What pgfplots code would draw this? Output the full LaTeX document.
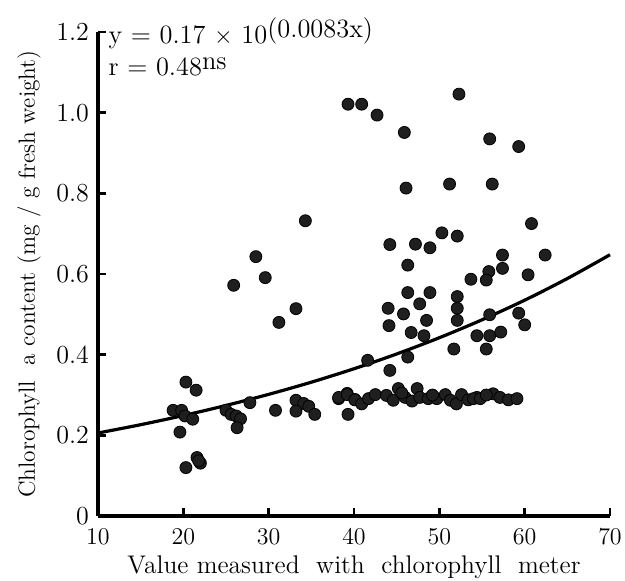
\documentclass[border=0pt]{standalone}
\usepackage{pgfplots}
\pgfplotsset{compat=1.18}
\begin{document}
\begin{tikzpicture}
\begin{axis}[
  scale only axis,
  width=256pt, height=242pt,
  xmin=10, xmax=70, ymin=0, ymax=1.2,
  axis lines=left,
  axis line style={line width=1.6pt, -},
  xtick={10,20,30,40,50,60,70},
  ytick={0,0.2,0.4,0.6,0.8,1.0,1.2},
  yticklabels={0,0.2,0.4,0.6,0.8,1.0,1.2},
  tick align=inside,
  major tick length=4pt,
  tick style={line width=1.2pt, black},
  ticklabel style={font=\fontsize{13}{15}\selectfont},
  xticklabel style={yshift=-3pt},
  yticklabel style={xshift=-1pt},
  xlabel={Value measured\ \ with\ \ chlorophyll\ \ meter},
  ylabel={Chlorophyll\ \ a content (mg / g fresh weight)},
  xlabel style={font=\fontsize{12.75}{15}\selectfont, yshift=1pt},
  ylabel style={font=\fontsize{11.7}{14}\selectfont, yshift=1pt},
  clip=false,
]
\addplot[only marks, mark=*, mark size=3pt, mark options={fill=black!88, draw=black, line width=0.4pt}] coordinates {
(20.3,0.332) (21.5,0.312) (18.8,0.262) (19.8,0.262) (20.2,0.248) (21.1,0.240)
(19.6,0.208) (20.3,0.120) (21.6,0.145) (22.0,0.131) (21.8,0.137)
(25.0,0.262) (25.6,0.252) (26.2,0.248) (26.7,0.241) (26.3,0.219) (27.8,0.281)
(30.8,0.262) (33.2,0.287) (34.1,0.279) (34.7,0.272) (33.2,0.260) (35.4,0.252)
(38.2,0.291) (39.2,0.304) (40.1,0.289) (39.3,0.252)
(34.3,0.732) (28.5,0.643) (29.6,0.591) (25.9,0.572) (33.2,0.514) (31.2,0.480)
(39.3,1.021) (40.9,1.021) (42.7,0.994) (52.3,1.046) (45.9,0.951) (55.9,0.935) (59.3,0.916)
(46.1,0.813) (51.2,0.823) (56.2,0.823) (60.8,0.725)
(44.2,0.673) (47.2,0.674) (48.9,0.665) (50.3,0.702) (52.1,0.694) (62.4,0.647) (57.4,0.647)
(46.3,0.622) (55.8,0.606) (57.4,0.614) (60.4,0.598) (53.7,0.587) (55.5,0.585)
(46.3,0.554) (48.9,0.554) (52.1,0.544) (52.1,0.515) (52.1,0.485) (47.7,0.526)
(44.0,0.515) (45.8,0.501) (44.1,0.472) (48.5,0.485) (46.7,0.455) (48.2,0.447)
(55.9,0.499) (59.3,0.503) (60.0,0.474) (54.4,0.447) (55.9,0.447) (57.2,0.456)
(51.7,0.414) (55.5,0.414) (46.3,0.394) (41.6,0.386) (44.2,0.361)
(38.2,0.294) (39.2,0.301) (40.1,0.288) (40.9,0.278) (41.7,0.291) (42.5,0.301)
(43.8,0.299) (44.6,0.287) (45.2,0.316) (46.0,0.294) (46.8,0.285) (47.4,0.316)
(47.7,0.294) (48.7,0.291) (49.7,0.291) (50.7,0.301) (51.3,0.287) (52.0,0.278)
(52.6,0.301) (53.4,0.288) (54.4,0.294) (54.0,0.291) (54.8,0.291) (56.3,0.303)
(57.1,0.294) (58.1,0.288) (59.1,0.291) (45.6,0.305) (49.2,0.300) (55.5,0.300)
};
\addplot[black, line width=1.6pt, smooth] coordinates {
(10,0.2058) (15,0.2264) (20,0.2491) (25,0.2741) (30,0.3016) (35,0.3318) (40,0.3651)
(45,0.4017) (50,0.4420) (55,0.4864) (60,0.5351) (65,0.5888) (70,0.6478)
};
\node[anchor=base west, font=\fontsize{13.2}{15}\selectfont, inner sep=0pt] at (axis cs:11.2,1.172)
  {y = 0.17 $\times$ 10\raisebox{0.55ex}{(0.0083x)}};
\node[anchor=base west, font=\fontsize{13.2}{15}\selectfont, inner sep=0pt] at (axis cs:11.2,1.092)
  {r = 0.48\raisebox{0.5ex}{ns}};
\end{axis}
\pgfresetboundingbox
\path ([shift={(-49pt,-32pt)}]current axis.south west) rectangle ([shift={(7.5pt,16pt)}]current axis.north east);
\end{tikzpicture}
\end{document}
